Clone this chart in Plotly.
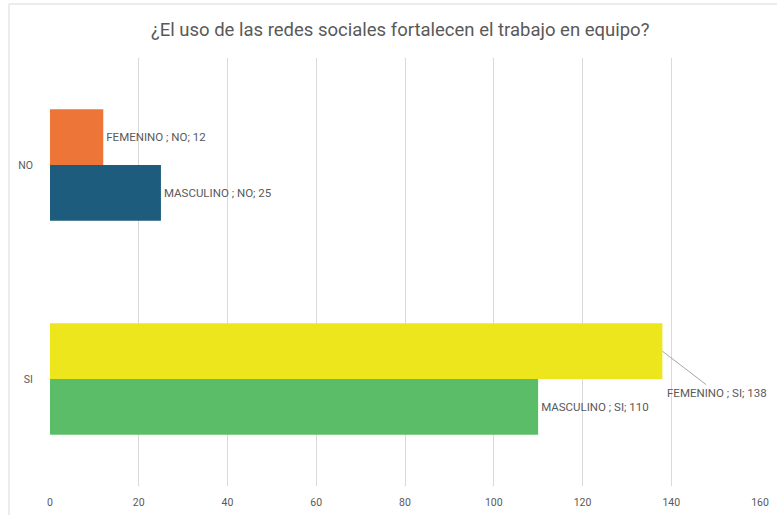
import plotly.graph_objects as go

categories = ["SI", "NO"]
femenino = [138, 12]
masculino = [110, 25]
fem_colors = ["#EDE61C", "#ED7537"]
mas_colors = ["#5BBD67", "#1D5C7D"]
x_ticks = [0, 20, 40, 60, 80, 100, 120, 140, 160]

FONT = "Liberation Sans Narrow, Arial Narrow, Roboto, Liberation Sans, sans-serif"
label_font = dict(family=FONT, size=11.5, color="#595959")

fem_text = [f"FEMENINO ; {c}; {v}" for c, v in zip(categories, femenino)]
mas_text = [f"MASCULINO ; {c}; {v}" for c, v in zip(categories, masculino)]

bw = 0.26
fig = go.Figure()
fig.add_trace(go.Bar(
    y=categories, x=masculino, orientation="h", name="MASCULINO",
    marker=dict(color=mas_colors, line=dict(width=0)),
    width=bw, offset=-bw,
    text=mas_text, textposition="outside", textfont=label_font, cliponaxis=False,
))
fig.add_trace(go.Bar(
    y=categories, x=femenino, orientation="h", name="FEMENINO",
    marker=dict(color=fem_colors, line=dict(width=0)),
    width=bw, offset=0,
    text=["" if c == "SI" else t for c, t in zip(categories, fem_text)],
    textposition="outside", textfont=label_font, cliponaxis=False,
))

# leader-line label for the SI / FEMENINO bar
fig.add_annotation(
    x=femenino[0], y=bw / 2, xref="x", yref="y",
    text=fem_text[0], font=label_font,
    showarrow=True, arrowhead=0, arrowwidth=1, arrowcolor="#A6A6A6",
    ax=55, ay=42, standoff=0,
)

fig.update_layout(
    width=777, height=515,
    margin=dict(l=50, r=17, t=58, b=29, autoexpand=False),
    paper_bgcolor="white", plot_bgcolor="white",
    showlegend=False,
    barmode="overlay",
    title=dict(text="¿El uso de las redes sociales fortalecen el trabajo en equipo?",
               x=0.515, xanchor="center", y=0.942, yanchor="middle",
               font=dict(family=FONT, size=18.5, color="#595959")),
    xaxis=dict(range=[0, 160], tickvals=x_ticks, showgrid=True, gridcolor="#D9D9D9", gridwidth=1,
               automargin=False,
               zeroline=False, showline=False, ticks="outside", ticklen=6, tickcolor="rgba(0,0,0,0)",
               tickfont=dict(family=FONT, size=10.5, color="#595959")),
    yaxis=dict(categoryorder="array", categoryarray=categories, range=[-0.5, 1.5],
               automargin=False,
               showgrid=False, zeroline=False, showline=False, ticks="outside", ticklen=14, tickcolor="rgba(0,0,0,0)",
               tickfont=dict(family=FONT, size=10.5, color="#595959")),
    shapes=[dict(type="rect", xref="paper", yref="paper",
                 x0=-41/710, x1=1.2, y0=-0.2, y1=1 + 54/428,
                 line=dict(color="#D9D9D9", width=1), fillcolor="rgba(0,0,0,0)", layer="below")],
)

fig.write_html("out.html", config={"displayModeBar": False},
               post_script="document.body.style.margin='0';document.body.style.padding='0';")
